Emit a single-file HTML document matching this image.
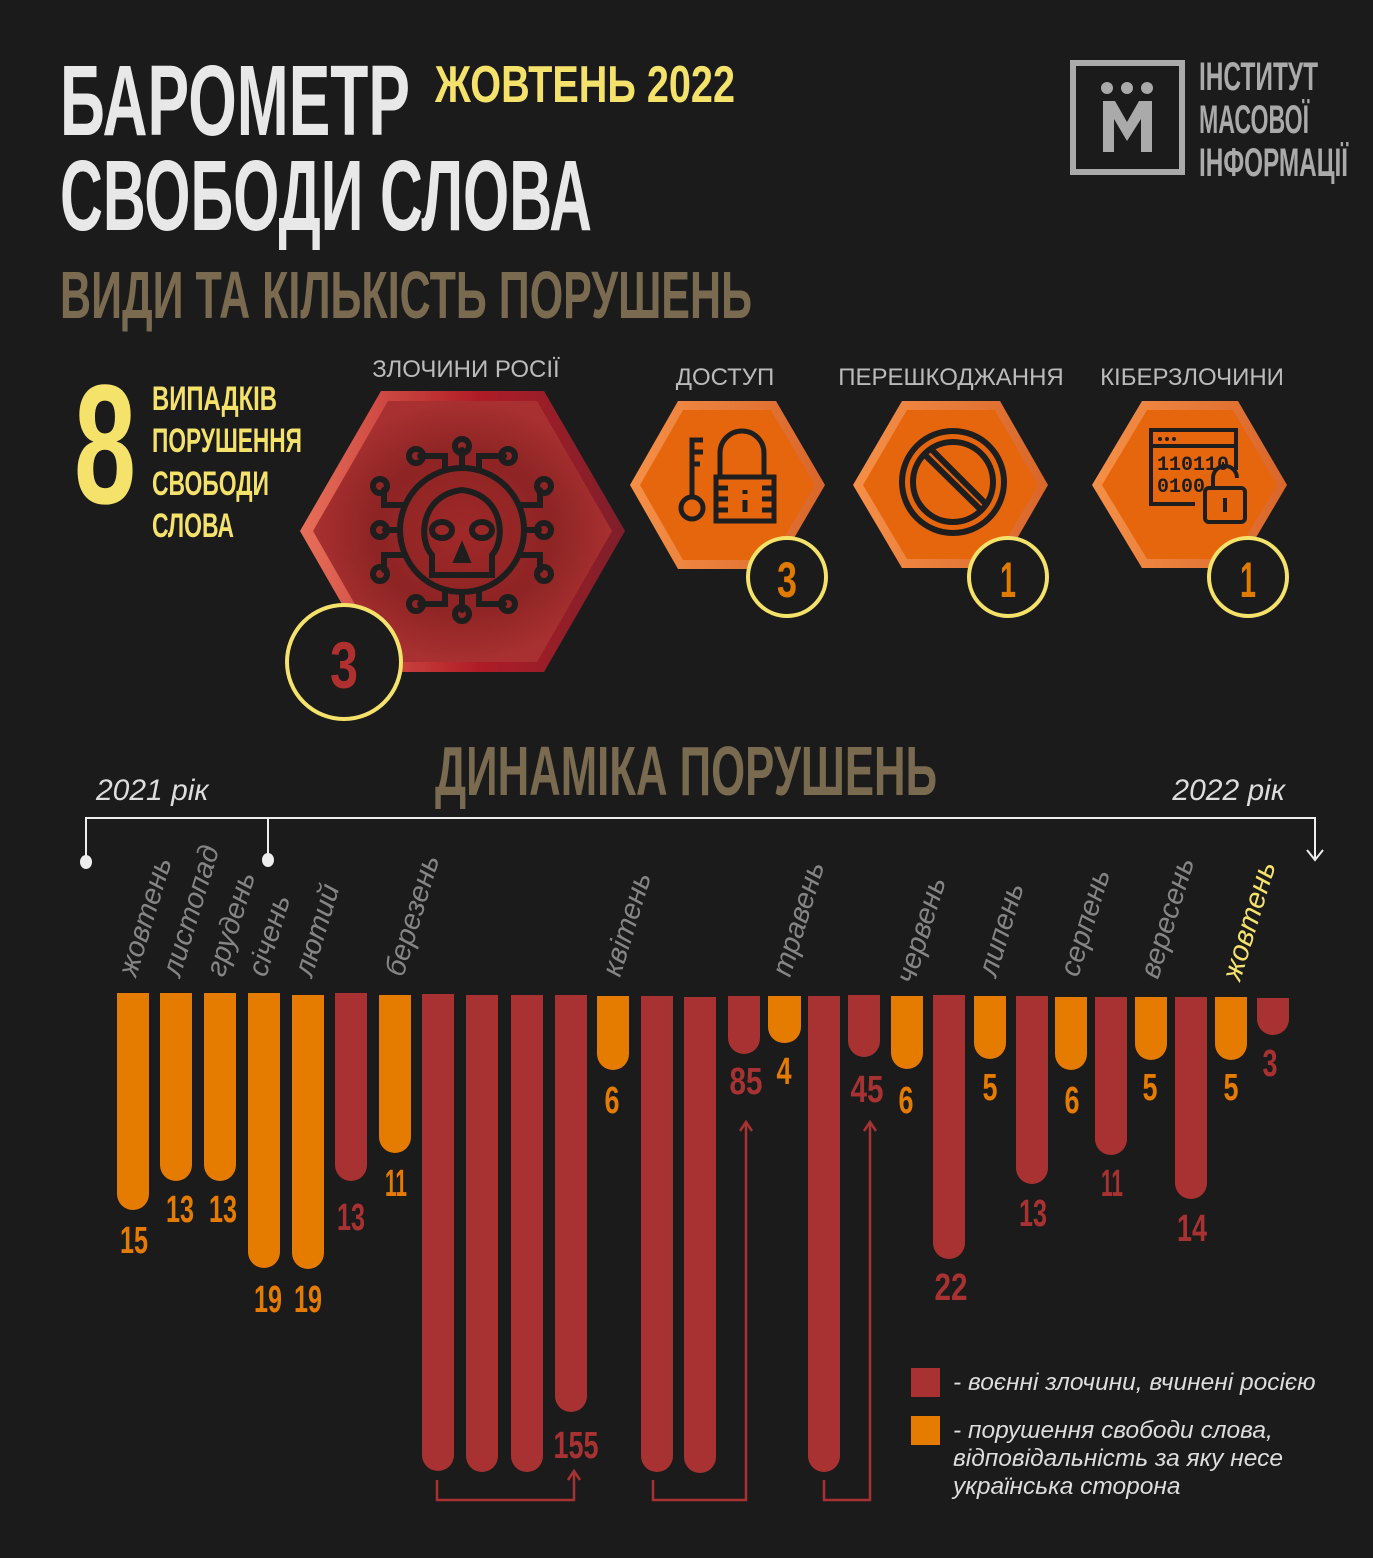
<!DOCTYPE html>
<html><head><meta charset="utf-8"><style>
html,body{margin:0;padding:0;background:#1b1b1b;}
svg{display:block;}
.c{font-family:"Liberation Sans","DejaVu Sans",sans-serif;font-weight:bold;}
.i{font-family:"Liberation Sans","DejaVu Sans",sans-serif;font-style:italic;}
</style></head><body>
<svg width="1373" height="1558" viewBox="0 0 1373 1558" xmlns="http://www.w3.org/2000/svg">
<defs>
<linearGradient id="rg" x1="0" x2="1" y1="0" y2="0"><stop offset="0" stop-color="#e8705a"/><stop offset="0.55" stop-color="#b01c26"/><stop offset="1" stop-color="#7e1f2a"/></linearGradient>
<radialGradient id="rin" cx="0.5" cy="0.5" r="0.5"><stop offset="0" stop-color="#a02828"/><stop offset="0.6" stop-color="#8e2424"/><stop offset="1" stop-color="#a83030"/></radialGradient>
<linearGradient id="og" x1="0" x2="1"><stop offset="0" stop-color="#f59048"/><stop offset="1" stop-color="#d9662a"/></linearGradient>
</defs>
<rect width="1373" height="1558" fill="#1b1b1b"/>

<text class="c" x="60" y="135" font-size="100" fill="#e8e8e8" textLength="350" lengthAdjust="spacingAndGlyphs">БАРОМЕТР</text>
<text class="c" x="60" y="230" font-size="100" fill="#e8e8e8" textLength="532" lengthAdjust="spacingAndGlyphs">СВОБОДИ СЛОВА</text>
<text class="c" x="435" y="102" font-size="52" fill="#f5e26b" textLength="300" lengthAdjust="spacingAndGlyphs">ЖОВТЕНЬ 2022</text>
<text class="c" x="60" y="318" font-size="67" fill="#7a6a50" textLength="692" lengthAdjust="spacingAndGlyphs">ВИДИ ТА КІЛЬКІСТЬ ПОРУШЕНЬ</text>

<rect x="1073" y="63" width="109" height="109" fill="none" stroke="#aaa" stroke-width="6"/>
<circle cx="1107" cy="88" r="6" fill="#aaa"/><circle cx="1127" cy="88" r="6" fill="#aaa"/><circle cx="1147" cy="88" r="6" fill="#aaa"/>
<path d="M1103 152 V101 H1115 L1127 122 L1139 101 H1152 V152 H1141 V119 L1127 141 L1114 119 V152 Z" fill="#aaa"/>
<text class="c" x="1199" y="90" font-size="40" fill="#aaa" font-weight="normal" textLength="119" lengthAdjust="spacingAndGlyphs">ІНСТИТУТ</text>
<text class="c" x="1199" y="133" font-size="40" fill="#aaa" font-weight="normal" textLength="110" lengthAdjust="spacingAndGlyphs">МАСОВОЇ</text>
<text class="c" x="1199" y="176" font-size="40" fill="#aaa" font-weight="normal" textLength="149" lengthAdjust="spacingAndGlyphs">ІНФОРМАЦІЇ</text>

<text class="c" x="74" y="503" font-size="170" fill="#f5e26b" textLength="62" lengthAdjust="spacingAndGlyphs">8</text>
<g class="c" font-size="34" fill="#f5e26b">
<text x="152" y="410" textLength="125" lengthAdjust="spacingAndGlyphs">ВИПАДКІВ</text>
<text x="152" y="452" textLength="150" lengthAdjust="spacingAndGlyphs">ПОРУШЕННЯ</text>
<text x="152" y="495" textLength="117" lengthAdjust="spacingAndGlyphs">СВОБОДИ</text>
<text x="152" y="537" textLength="82" lengthAdjust="spacingAndGlyphs">СЛОВА</text>
</g>

<g font-family="Liberation Sans, sans-serif" font-size="24" fill="#bbb" text-anchor="middle">
<text x="466" y="377">ЗЛОЧИНИ РОСІЇ</text>
<text x="725" y="385">ДОСТУП</text>
<text x="951" y="385">ПЕРЕШКОДЖАННЯ</text>
<text x="1192" y="385">КІБЕРЗЛОЧИНИ</text>
</g>

<polygon points="300,531 381,391 544,391 625,531 544,672 381,672" fill="url(#rg)"/>
<polygon points="313,531 388,401 537,401 612,531 537,662 388,662" fill="url(#rin)"/>
<g fill="none" stroke="#1e1e1e" stroke-width="6" stroke-linecap="round">
<circle cx="462" cy="530" r="62"/>
<path d="M432 555 C418 540 420 495 462 490 C504 495 506 540 492 555 V575 H432 Z"/>
<ellipse cx="442" cy="530" rx="10" ry="8"/><ellipse cx="482" cy="530" rx="10" ry="8"/>
<path d="M462 548 L457 560 H467 Z"/>
<path d="M462 468 V450 M445 470 V456 H420 M479 470 V456 H504 M462 592 V610 M445 590 V604 H420 M479 590 V604 H504"/>
<path d="M400 530 H385 M524 530 H539 M402 505 H384 V490 M522 505 H540 V490 M402 555 H384 V570 M522 555 H540 V570"/>
<circle cx="462" cy="446" r="7"/><circle cx="416" cy="456" r="7"/><circle cx="508" cy="456" r="7"/>
<circle cx="462" cy="614" r="7"/><circle cx="416" cy="604" r="7"/><circle cx="508" cy="604" r="7"/>
<circle cx="380" cy="530" r="7"/><circle cx="544" cy="530" r="7"/>
<circle cx="380" cy="486" r="7"/><circle cx="544" cy="486" r="7"/><circle cx="380" cy="574" r="7"/><circle cx="544" cy="574" r="7"/>
</g>
<circle cx="344" cy="662" r="57" fill="#1b1b1b" stroke="#f5e26b" stroke-width="4"/>
<text class="c" x="344" y="688" font-size="66" fill="#b03030" text-anchor="middle" textLength="28" lengthAdjust="spacingAndGlyphs">3</text>

<g>
<polygon points="630,485 678,401 776,401 825,485 776,569 678,569" fill="url(#og)"/>
<polygon points="640,485 683,410 771,410 815,485 771,560 683,560" fill="#e5660c"/>
<g fill="none" stroke="#1e1e1e" stroke-width="5">
<circle cx="692" cy="508" r="11"/><path d="M692 497 V440 H703 M692 452 H703 M692 464 H700"/>
<path d="M720 477 V453 A22 22 0 0 1 764 453 V477"/><rect x="716" y="477" width="58" height="44"/>
<path d="M716 488 H728 M716 499 H728 M716 510 H728 M762 488 H774 M762 499 H774 M762 510 H774 M745 490 V494 M745 500 V512"/>
</g>
<circle cx="787" cy="577" r="39" fill="#1b1b1b" stroke="#f5e26b" stroke-width="4"/>
<text class="c" x="787" y="597" font-size="50" fill="#e07b00" text-anchor="middle" textLength="20" lengthAdjust="spacingAndGlyphs">3</text>
</g>
<g>
<polygon points="853,485 902,401 1000,401 1048,485 1000,568 902,568" fill="url(#og)"/>
<polygon points="863,485 907,410 995,410 1038,485 995,559 907,559" fill="#e5660c"/>
<g fill="none" stroke="#1e1e1e" stroke-width="6">
<circle cx="953" cy="482" r="51"/><circle cx="953" cy="482" r="40"/>
<path d="M923 453 L983 512 M929 447 L988 506"/>
</g>
<circle cx="1008" cy="577" r="39" fill="#1b1b1b" stroke="#f5e26b" stroke-width="4"/>
<text class="c" x="1008" y="597" font-size="50" fill="#e07b00" text-anchor="middle" textLength="16" lengthAdjust="spacingAndGlyphs">1</text>
</g>
<g>
<polygon points="1092,485 1142,401 1238,401 1287,485 1238,568 1142,568" fill="url(#og)"/>
<polygon points="1102,485 1147,410 1233,410 1277,485 1233,559 1147,559" fill="#e5660c"/>
<g fill="none" stroke="#1e1e1e" stroke-width="4">
<path d="M1195 504 H1151 V430 H1236 V470 M1151 446 H1236 M1175 504 H1185"/>
<path d="M1213 488 V478 A12 12 0 0 1 1237 478"/><rect x="1205" y="488" width="40" height="34" rx="4"/>
<path d="M1225 498 V512"/>
</g>
<g fill="#1e1e1e"><circle cx="1160" cy="439" r="2"/><circle cx="1167" cy="439" r="2"/><circle cx="1174" cy="439" r="2"/></g>
<text font-family="Liberation Mono, monospace" font-weight="bold" font-size="20" fill="#1e1e1e" x="1157" y="470" textLength="72" lengthAdjust="spacingAndGlyphs">110110</text>
<text font-family="Liberation Mono, monospace" font-weight="bold" font-size="20" fill="#1e1e1e" x="1157" y="492" textLength="48" lengthAdjust="spacingAndGlyphs">0100</text>
<circle cx="1248" cy="577" r="39" fill="#1b1b1b" stroke="#f5e26b" stroke-width="4"/>
<text class="c" x="1248" y="597" font-size="50" fill="#e07b00" text-anchor="middle" textLength="16" lengthAdjust="spacingAndGlyphs">1</text>
</g>

<text class="c" x="435" y="795" font-size="70" fill="#7a6a50" textLength="502" lengthAdjust="spacingAndGlyphs">ДИНАМІКА ПОРУШЕНЬ</text>
<text class="i" x="96" y="800" font-size="30" fill="#ddd">2021 рік</text>
<text class="i" x="1285" y="800" font-size="30" fill="#ddd" text-anchor="end">2022 рік</text>
<g stroke="#eee" stroke-width="2" fill="none">
<path d="M86 860 V818 H1315 V858"/><path d="M268 818 V856"/>
<path d="M1307 850 L1315 860 L1323 850"/>
</g>
<ellipse cx="86" cy="862" rx="6" ry="7" fill="#eee"/><ellipse cx="268" cy="860" rx="6" ry="7" fill="#eee"/>

<g class="i" font-size="29" fill="#858585">
<text transform="translate(136,978) rotate(-73)">жовтень</text>
<text transform="translate(180,978) rotate(-73)">листопад</text>
<text transform="translate(224,978) rotate(-73)">грудень</text>
<text transform="translate(266,978) rotate(-73)">січень</text>
<text transform="translate(312,978) rotate(-73)">лютий</text>
<text transform="translate(403,978) rotate(-73)">березень</text>
<text transform="translate(620,978) rotate(-73)">квітень</text>
<text transform="translate(790,978) rotate(-73)">травень</text>
<text transform="translate(914,985) rotate(-73)">червень</text>
<text transform="translate(996,978) rotate(-73)">липень</text>
<text transform="translate(1078,978) rotate(-73)">серпень</text>
<text transform="translate(1158,980) rotate(-73)">вересень</text>
<text transform="translate(1240,982) rotate(-73)" fill="#f5e26b">жовтень</text>
</g>

<g>
<g fill="#e57c00">
<rect x="117" y="993" width="32" height="217" rx="16"/><rect x="117" y="993" width="32" height="20"/>
<rect x="160" y="993" width="32" height="188" rx="16"/><rect x="160" y="993" width="32" height="20"/>
<rect x="204" y="993" width="32" height="188" rx="16"/><rect x="204" y="993" width="32" height="20"/>
<rect x="248" y="993" width="32" height="275" rx="16"/><rect x="248" y="993" width="32" height="20"/>
<rect x="292" y="995" width="32" height="274" rx="16"/><rect x="292" y="995" width="32" height="20"/>
<rect x="379" y="995" width="32" height="158" rx="16"/><rect x="379" y="995" width="32" height="20"/>
<rect x="597" y="996" width="32" height="74" rx="16"/><rect x="597" y="996" width="32" height="20"/>
<rect x="768" y="996" width="33" height="47" rx="16"/><rect x="768" y="996" width="33" height="20"/>
<rect x="891" y="996" width="32" height="73" rx="16"/><rect x="891" y="996" width="32" height="20"/>
<rect x="974" y="996" width="32" height="63" rx="16"/><rect x="974" y="996" width="32" height="20"/>
<rect x="1055" y="997" width="32" height="73" rx="16"/><rect x="1055" y="997" width="32" height="20"/>
<rect x="1135" y="997" width="32" height="63" rx="16"/><rect x="1135" y="997" width="32" height="20"/>
<rect x="1215" y="997" width="32" height="63" rx="16"/><rect x="1215" y="997" width="32" height="20"/>
</g>
<g fill="#a83232">
<rect x="335" y="993" width="32" height="188" rx="16"/><rect x="335" y="993" width="32" height="20"/>
<rect x="422" y="994" width="32" height="477" rx="16"/><rect x="422" y="994" width="32" height="20"/>
<rect x="466" y="995" width="32" height="477" rx="16"/><rect x="466" y="995" width="32" height="20"/>
<rect x="511" y="995" width="32" height="477" rx="16"/><rect x="511" y="995" width="32" height="20"/>
<rect x="555" y="995" width="32" height="417" rx="16"/><rect x="555" y="995" width="32" height="20"/>
<rect x="641" y="996" width="32" height="476" rx="16"/><rect x="641" y="996" width="32" height="20"/>
<rect x="684" y="997" width="32" height="476" rx="16"/><rect x="684" y="997" width="32" height="20"/>
<rect x="728" y="996" width="32" height="58" rx="16"/><rect x="728" y="996" width="32" height="20"/>
<rect x="808" y="996" width="32" height="476" rx="16"/><rect x="808" y="996" width="32" height="20"/>
<rect x="848" y="995" width="32" height="62" rx="16"/><rect x="848" y="995" width="32" height="20"/>
<rect x="933" y="995" width="32" height="264" rx="16"/><rect x="933" y="995" width="32" height="20"/>
<rect x="1016" y="996" width="32" height="188" rx="16"/><rect x="1016" y="996" width="32" height="20"/>
<rect x="1095" y="997" width="32" height="158" rx="16"/><rect x="1095" y="997" width="32" height="20"/>
<rect x="1175" y="997" width="32" height="202" rx="16"/><rect x="1175" y="997" width="32" height="20"/>
<rect x="1257" y="998" width="32" height="37" rx="16"/><rect x="1257" y="998" width="32" height="18"/>
</g>
</g>

<g class="c" font-size="38" text-anchor="middle" fill="#e57c00">
<text x="134" y="1253" textLength="28" lengthAdjust="spacingAndGlyphs">15</text>
<text x="180" y="1222" textLength="28" lengthAdjust="spacingAndGlyphs">13</text>
<text x="223" y="1222" textLength="28" lengthAdjust="spacingAndGlyphs">13</text>
<text x="268" y="1312" textLength="28" lengthAdjust="spacingAndGlyphs">19</text>
<text x="308" y="1312" textLength="28" lengthAdjust="spacingAndGlyphs">19</text>
<text x="396" y="1196" textLength="22" lengthAdjust="spacingAndGlyphs">11</text>
<text x="612" y="1113" textLength="15" lengthAdjust="spacingAndGlyphs">6</text>
<text x="784" y="1084" textLength="15" lengthAdjust="spacingAndGlyphs">4</text>
<text x="906" y="1113" textLength="15" lengthAdjust="spacingAndGlyphs">6</text>
<text x="990" y="1100" textLength="15" lengthAdjust="spacingAndGlyphs">5</text>
<text x="1072" y="1113" textLength="15" lengthAdjust="spacingAndGlyphs">6</text>
<text x="1150" y="1100" textLength="15" lengthAdjust="spacingAndGlyphs">5</text>
<text x="1231" y="1100" textLength="15" lengthAdjust="spacingAndGlyphs">5</text>
</g>
<g class="c" font-size="38" text-anchor="middle" fill="#a83232">
<text x="351" y="1230" textLength="28" lengthAdjust="spacingAndGlyphs">13</text>
<text x="576" y="1458" textLength="45" lengthAdjust="spacingAndGlyphs">155</text>
<text x="746" y="1094" textLength="33" lengthAdjust="spacingAndGlyphs">85</text>
<text x="867" y="1102" textLength="33" lengthAdjust="spacingAndGlyphs">45</text>
<text x="951" y="1300" textLength="33" lengthAdjust="spacingAndGlyphs">22</text>
<text x="1033" y="1226" textLength="28" lengthAdjust="spacingAndGlyphs">13</text>
<text x="1112" y="1196" textLength="22" lengthAdjust="spacingAndGlyphs">11</text>
<text x="1192" y="1241" textLength="30" lengthAdjust="spacingAndGlyphs">14</text>
<text x="1270" y="1076" textLength="15" lengthAdjust="spacingAndGlyphs">3</text>
</g>

<g stroke="#a83232" stroke-width="2.5" fill="none">
<path d="M437 1480 V1500 H574 V1472"/><path d="M568 1480 L574 1471 L580 1480"/>
<path d="M653 1480 V1500 H746 V1122"/><path d="M740 1131 L746 1122 L752 1131"/>
<path d="M824 1480 V1500 H870 V1122"/><path d="M864 1131 L870 1122 L876 1131"/>
</g>

<rect x="911" y="1368" width="29" height="29" fill="#a83232"/>
<rect x="911" y="1416" width="29" height="29" fill="#e57c00"/>
<g class="i" font-size="24.5" fill="#ddd">
<text x="953" y="1390">- воєнні злочини, вчинені росією</text>
<text x="953" y="1438">- порушення свободи слова,</text>
<text x="953" y="1466">відповідальність за яку несе</text>
<text x="953" y="1494">українська сторона</text>
</g>
</svg>
</body></html>
